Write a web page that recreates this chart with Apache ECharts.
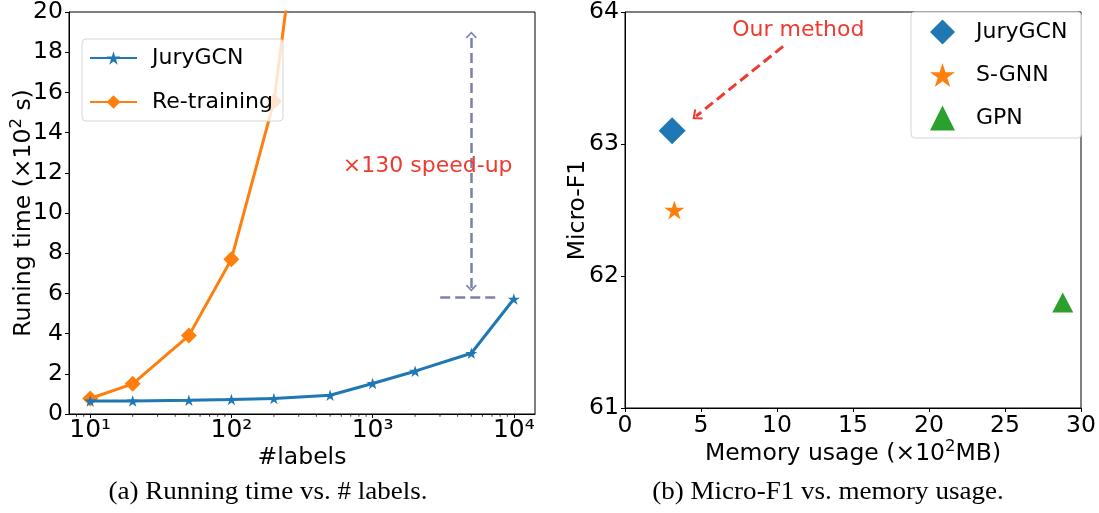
<!DOCTYPE html>
<html>
<head>
<meta charset="utf-8">
<script src="https://cdn.jsdelivr.net/npm/echarts@6/dist/echarts.min.js"></script>
<style>
html,body{margin:0;padding:0;background:#fff;}
#main{width:1099px;height:513px;}
</style>
</head>
<body>
<div id="main"></div>
<script>
// ---------- data: (a) running time vs #labels ----------
const labelCounts = [10, 20, 50, 100, 200, 500, 1000, 2000, 5000, 10000];
const juryTime = [0.65, 0.65, 0.68, 0.72, 0.77, 0.93, 1.52, 2.13, 3.02, 5.72];
const retrainCounts = [10, 20, 50, 100, 200, 500];
const retrainTime = [0.77, 1.50, 3.90, 7.70, 15.55, 37.0];
const minorTickValues = [8, 9, 20, 30, 40, 50, 60, 70, 80, 90, 200, 300, 400, 500, 600, 700, 800, 900,
  2000, 3000, 4000, 5000, 6000, 7000, 8000, 9000];
const yTicksA = [0, 20, 2]; // min, max, step
const supDigits = ['⁰', '¹', '²', '³', '⁴', '⁵'];

// ---------- data: (b) Micro-F1 vs memory ----------
const methods = ['JuryGCN', 'S-GNN', 'GPN'];
const memoryUsage = [3.1, 3.25, 28.8];
const microF1 = [63.10, 62.50, 61.80];

// annotations (data coordinates)
const speedArrow = [[5000, 6.27], [5000, 18.86]];
const speedBase = [[3013, 5.79], [7620, 5.79]];
const speedText = [2455, 12.34];
const methodArrow = [[10.4, 63.74], [4.67, 63.21]];
const methodText = [11.4, 63.86];

const FONT = 'DejaVu Sans';
const TICK = 23.5;
const LEG = 22;
const TITLE = 23.5;
const STAR = 'path://M0,-10 L2.245,-3.09 L9.511,-3.09 L3.633,1.18 L5.878,8.09 L0,3.82 L-5.878,8.09 L-3.633,1.18 L-9.511,-3.09 L-2.245,-3.09 Z';
const CHEVRON = 'path://M0,0 L10,10 L8,12 L0,4 L-8,12 L-10,10 Z';
const RED = '#ee3a30';
const SLATE = '#7c80ad';

const chart = echarts.init(document.getElementById('main'), null, {renderer: 'canvas'});

const titleRich = {
  a: {fontSize: TITLE, fontFamily: FONT, color: '#000', lineHeight: 28, verticalAlign: 'bottom'},
  s: {fontSize: 16.5, fontFamily: FONT, color: '#000', lineHeight: 14, verticalAlign: 'top'}
};

function logLabel(v) {
  const l = Math.log10(v);
  const n = Math.round(l);
  if (Math.abs(l - n) > 1e-6) return '';
  return '10' + supDigits[n];
}

const option = {
  animation: false,
  backgroundColor: '#fff',
  textStyle: {fontFamily: FONT},
  grid: [
    {left: 69, top: 11, width: 466, height: 403, show: true, borderColor: '#000', borderWidth: 1},
    {left: 625, top: 9, width: 456, height: 399, show: true, borderColor: '#000', borderWidth: 1}
  ],
  xAxis: [
    {
      type: 'log', logBase: 10, gridIndex: 0,
      min: Math.pow(10, 0.85), max: Math.pow(10, 4.15),
      axisLine: {show: true, lineStyle: {color: '#000', width: 1}},
      axisTick: {show: true, inside: false, length: 4, lineStyle: {color: '#000'}},
      splitLine: {show: false},
      axisLabel: {show: true, margin: 4, fontSize: 25, fontFamily: FONT, color: '#000',
        formatter: logLabel, showMinLabel: false, showMaxLabel: false},
      name: '#labels', nameLocation: 'middle', nameGap: 32, nameMoveOverlap: false,
      nameTextStyle: {fontSize: TITLE, fontFamily: FONT, color: '#000'}
    },
    {
      type: 'value', gridIndex: 1, min: 0, max: 30, interval: 5,
      axisLine: {show: true, lineStyle: {color: '#000', width: 1}},
      axisTick: {show: true, inside: false, length: 4, lineStyle: {color: '#000'}},
      splitLine: {show: false},
      axisLabel: {fontSize: TICK, color: '#000', fontFamily: FONT, margin: 6},
      name: '{a|Memory usage (×10}{s|2}{a|MB)}', nameLocation: 'middle', nameGap: 30, nameMoveOverlap: false,
      nameTextStyle: {rich: titleRich}
    }
  ],
  yAxis: [
    {
      type: 'value', gridIndex: 0, min: yTicksA[0], max: yTicksA[1], interval: yTicksA[2],
      axisLine: {show: true, lineStyle: {color: '#000', width: 1}},
      axisTick: {show: true, inside: false, length: 4, lineStyle: {color: '#000'}},
      splitLine: {show: false},
      axisLabel: {fontSize: TICK, color: '#000', fontFamily: FONT, margin: 6},
      name: '{a|Runing time (×10}{s|2}{a| s)}', nameLocation: 'middle', nameGap: 33, nameMoveOverlap: false,
      nameTextStyle: {rich: titleRich}
    },
    {
      type: 'value', gridIndex: 1, min: 61, max: 64, interval: 1,
      axisLine: {show: true, lineStyle: {color: '#000', width: 1}},
      axisTick: {show: true, inside: false, length: 4, lineStyle: {color: '#000'}},
      splitLine: {show: false},
      axisLabel: {fontSize: TICK, color: '#000', fontFamily: FONT, margin: 6},
      name: 'Micro-F1', nameLocation: 'middle', nameGap: 33, nameMoveOverlap: false,
      nameTextStyle: {fontSize: TITLE, fontFamily: FONT, color: '#000', lineHeight: 28}
    }
  ],
  legend: [
    {
      data: ['JuryGCN', 'Re-training'],
      orient: 'vertical', left: 82, top: 39,
      padding: [5, 10, 5, 7], itemGap: 16,
      itemWidth: 47, itemHeight: 17,
      textStyle: {fontSize: LEG, fontFamily: FONT, color: '#000', padding: [0, 0, 0, 10], lineHeight: 28},
      backgroundColor: 'rgba(255,255,255,0.8)', borderColor: '#d6d6d6', borderWidth: 1, borderRadius: 4,
      selectedMode: false
    },
    {
      data: ['JuryGCN (b)', 'S-GNN', 'GPN'],
      formatter: function (n) { return n.replace(' (b)', ''); },
      orient: 'vertical', left: 911, top: 12,
      padding: [6, 14, 6, 19], itemGap: 15,
      itemWidth: 25, itemHeight: 25,
      textStyle: {fontSize: LEG, fontFamily: FONT, color: '#000', padding: [0, 0, 0, 16], lineHeight: 28},
      backgroundColor: 'rgba(255,255,255,0.8)', borderColor: '#d6d6d6', borderWidth: 1, borderRadius: 4,
      selectedMode: false
    }
  ],
  series: [
    {
      name: 'JuryGCN', type: 'line', xAxisIndex: 0, yAxisIndex: 0,
      data: labelCounts.map((c, i) => [c, juryTime[i]]),
      symbol: STAR, symbolSize: [12, 11.5], showSymbol: true,
      lineStyle: {color: '#1f77b4', width: 3}, itemStyle: {color: '#1f77b4'},
      z: 3,
      markLine: {
        silent: true, animation: false,
        label: {show: false},
        lineStyle: {color: SLATE, type: [10, 5], width: 2.5},
        symbolSize: [11, 7],
        data: [
          [{coord: speedArrow[0], symbol: CHEVRON}, {coord: speedArrow[1], symbol: CHEVRON}],
          [{coord: speedBase[0], symbol: 'none'}, {coord: speedBase[1], symbol: 'none'}]
        ]
      },
      markPoint: {
        silent: true, symbol: 'circle', symbolSize: 0,
        label: {show: true, position: 'inside', formatter: '×130 speed-up', color: RED, fontSize: LEG, fontFamily: FONT},
        data: [{coord: speedText}]
      }
    },
    {
      name: 'Re-training', type: 'line', xAxisIndex: 0, yAxisIndex: 0,
      data: retrainCounts.map((c, i) => [c, retrainTime[i]]),
      symbol: 'diamond', symbolSize: [16, 16], showSymbol: true,
      lineStyle: {color: '#ff7f0e', width: 3}, itemStyle: {color: '#ff7f0e'},
      z: 2
    },
    {
      name: 'minor-ticks', type: 'scatter', xAxisIndex: 0, yAxisIndex: 0,
      data: minorTickValues.map(v => [v, 0]),
      symbol: 'rect', symbolSize: [1, 2.5], symbolOffset: [0, 1.6],
      itemStyle: {color: '#000'}, clip: false, silent: true, z: 1
    },
    {
      name: 'JuryGCN (b)', type: 'scatter', xAxisIndex: 1, yAxisIndex: 1,
      data: [[memoryUsage[0], microF1[0]]],
      symbol: 'diamond', symbolSize: [27, 27], itemStyle: {color: '#1f77b4', opacity: 1},
      markLine: {
        silent: true, animation: false, label: {show: false},
        lineStyle: {color: RED, type: [10, 5], width: 3},
        symbolSize: [13, 9],
        data: [[{coord: methodArrow[0], symbol: 'none'}, {coord: methodArrow[1], symbol: CHEVRON}]]
      },
      markPoint: {
        silent: true, symbol: 'circle', symbolSize: 0,
        label: {show: true, position: 'inside', formatter: 'Our method', color: RED, fontSize: LEG, fontFamily: FONT},
        data: [{coord: methodText}]
      }
    },
    {
      name: 'S-GNN', type: 'scatter', xAxisIndex: 1, yAxisIndex: 1,
      data: [[memoryUsage[1], microF1[1]]],
      symbol: STAR, symbolSize: [20, 19], itemStyle: {color: '#ff7f0e', opacity: 1}
    },
    {
      name: 'GPN', type: 'scatter', xAxisIndex: 1, yAxisIndex: 1,
      data: [[memoryUsage[2], microF1[2]]],
      symbol: 'triangle', symbolSize: [21, 20], itemStyle: {color: '#2ca02c', opacity: 1}
    }
  ],
  graphic: [
    {
      type: 'text', x: 268, y: 492, scaleX: 1.04, scaleY: 1,
      style: {text: '(a) Running time vs. # labels.', fontSize: 26, fontFamily: 'Liberation Serif', fill: '#000', align: 'center', verticalAlign: 'middle'}
    },
    {
      type: 'text', x: 828, y: 492, scaleX: 1.04, scaleY: 1,
      style: {text: '(b) Micro-F1 vs. memory usage.', fontSize: 26, fontFamily: 'Liberation Serif', fill: '#000', align: 'center', verticalAlign: 'middle'}
    }
  ]
};
chart.setOption(option);
</script>
</body>
</html>
